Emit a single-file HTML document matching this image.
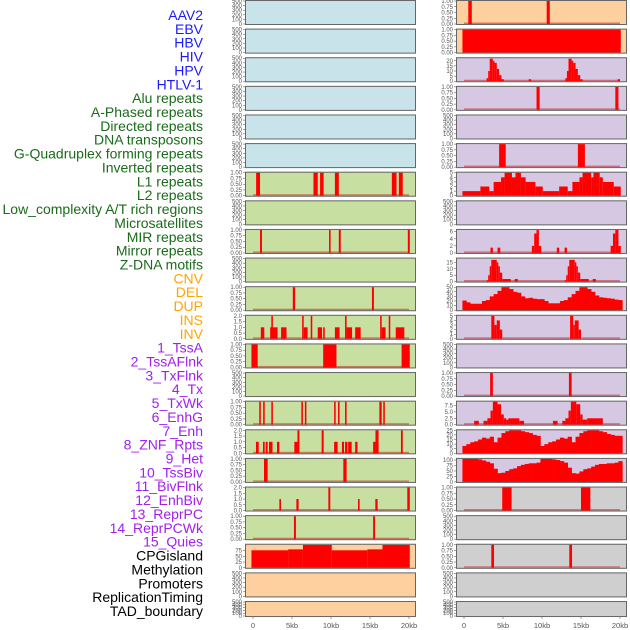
<!DOCTYPE html>
<html><head><meta charset="utf-8">
<style>
html,body{margin:0;padding:0;background:#fff;width:630px;height:630px;overflow:hidden}
svg{display:block}
text{font-family:"Liberation Sans",sans-serif}
</style></head>
<body>
<svg id="chart" width="630" height="630" viewBox="0 0 630 630" xmlns="http://www.w3.org/2000/svg">
<g id="labels"></g>
<g id="panels"></g>
<g id="xaxes"></g>
</svg>
<script>
// ---------- data ----------
const trackLabels = ["AAV2","EBV","HBV","HIV","HPV","HTLV-1","Alu repeats","A-Phased repeats","Directed repeats","DNA transposons","G-Quadruplex forming repeats","Inverted repeats","L1 repeats","L2 repeats","Low_complexity A/T rich regions","Microsatellites","MIR repeats","Mirror repeats","Z-DNA motifs","CNV","DEL","DUP","INS","INV","1_TssA","2_TssAFlnk","3_TxFlnk","4_Tx","5_TxWk","6_EnhG","7_Enh","8_ZNF_Rpts","9_Het","10_TssBiv","11_BivFlnk","12_EnhBiv","13_ReprPC","14_ReprPCWk","15_Quies","CPGisland","Methylation","Promoters","ReplicationTiming","TAD_boundary"];
const labelGroups = [6,13,5,15,5];
const groupColors = ["#1a1aff","#1a6b1a","#ffa500","#a020f0","#000000"];
const xTicks = [0,5,10,15,20];
const xTickLabels = ["0","5kb","10kb","15kb","20kb"];

// left column backgrounds / right column backgrounds (per row)
const leftBg = ["b","b","b","b","b","b","g","g","g","g","g","g","g","g","g","g","g","g","g","p","p","p"];
const rightBg = ["p","p","l","l","l","l","l","l","l","l","l","l","l","l","l","l","l","y","y","y","y","y"];

// segments: [startKb, endKb, value]
const L6 = [[0.4,0.9,1],[7.75,8.3,1],[8.6,9.05,1],[10.5,11.0,1],[17.8,18.4,1],[18.7,19.2,1]];
const L8 = [[0.9,1.15,1],[9.75,9.95,1],[11.0,11.25,1],[19.85,20.1,1]];
const L10 = [[5.1,5.4,1],[15.25,15.5,1]];
const L11 = [[1.0,1.45,1],[2.2,3.15,1],[2.35,2.55,2],[3.6,4.3,1],[6.3,6.5,2],[6.5,7.0,1],[7.4,7.6,2],[8.3,8.85,1],[9.0,9.2,1],[10.5,11.1,1],[11.8,12.0,2],[12.0,12.7,1],[13.1,13.8,1],[16.3,16.5,2],[16.5,17.0,1],[17.4,17.6,2],[18.3,19.4,1]];
const L12 = [[-0.2,0.6,1],[9.0,10.7,1],[19.05,20.1,1]];
const L14 = [[0.8,1.0,1],[1.3,1.5,1],[2.35,2.55,1],[6.2,6.4,1],[6.65,6.85,1],[10.4,10.6,1],[10.9,11.1,1],[11.8,12.0,1],[16.2,16.5,1],[16.7,16.9,1]];
const L15 = [[0.38,0.73,1],[1.28,1.5,1],[1.63,1.88,1],[2.05,2.5,1],[3.08,3.38,1],[5.3,5.7,1],[5.7,5.95,2],[8.8,9.06,2],[10.4,10.85,1],[11.4,11.67,1],[11.8,12.1,1],[12.2,12.65,1],[13.1,13.4,1],[15.4,15.7,1],[15.7,16.1,2],[18.97,19.2,2]];
const L16 = [[1.41,1.88,1],[11.58,12.0,1]];
const L17 = [[3.38,3.59,1],[5.56,5.85,1],[9.66,9.91,2],[13.46,13.67,1],[15.68,15.98,1],[19.78,20.1,2]];
const L18 = [[5.25,5.5,1],[15.4,15.65,1]];
const L19 = [[-0.2,4.5,76],[4.5,6.4,80],[6.4,10.1,99],[10.1,14.65,76],[14.65,16.6,80],[16.6,20.1,99]];

const R0 = [[0.55,1.0,1],[10.6,11.0,1]];
const R1 = [[-0.2,20.1,1]];
const R2 = [[2.9,3.1,3],[3.1,3.3,10],[3.3,3.7,22],[3.7,3.9,20],[3.9,4.2,18],[4.2,4.5,12],[4.5,4.8,6],[4.8,5.1,2],[8.3,8.6,2],[13.0,13.2,3],[13.2,13.4,10],[13.4,13.8,22],[13.8,14.0,20],[14.0,14.3,18],[14.3,14.6,12],[14.6,14.9,6],[14.9,15.2,2],[19.7,20.0,2]];
const R3 = [[9.3,9.7,1],[19.4,19.8,1]];
const R5 = [[4.5,5.35,1],[14.6,15.5,1]];
const R6 = [[-0.2,2.1,1],[2.1,3.25,2],[3.25,3.8,1],[3.8,4.75,3],[4.75,5.2,4],[5.2,6.15,5],[6.15,6.6,4],[6.6,7.3,5],[7.3,7.9,4],[7.9,9.15,3],[9.15,10.1,2],[10.1,12.2,1],[12.2,13.3,2],[13.3,13.9,1],[13.9,14.8,3],[14.8,15.2,4],[15.2,16.3,5],[16.3,16.6,4],[16.6,17.4,5],[17.4,17.8,4],[17.8,19.2,3],[19.2,20.1,2]];
const R8 = [[3.4,3.7,1.5],[4.3,4.65,1.5],[8.7,9.0,2],[9.0,9.3,5.5],[9.3,9.6,6.5],[9.6,9.9,2],[11.9,12.2,1.5],[12.9,13.2,1.5],[18.8,19.1,2],[19.1,19.4,5.5],[19.4,19.8,6.5],[19.8,20.1,2]];
const R9 = [[2.9,3.1,1],[3.1,3.3,5],[3.3,3.5,12],[3.5,4.2,17],[4.2,4.4,15],[4.4,4.6,12],[4.6,4.9,7],[4.9,6.0,2],[6.5,6.9,2],[12.9,13.1,1],[13.1,13.3,5],[13.3,13.5,12],[13.5,14.2,17],[14.2,14.4,15],[14.4,14.6,12],[14.6,14.9,7],[14.9,16.0,2],[16.5,16.9,2]];
const R10bins = [21,17,14,14,14,20,22,30,35,42,50,50,46,40,38,30,26,27,25,24,24,20,15,15,15,20,22,28,35,42,50,50,46,40,32,28,27,26,25,23,22];
const R11 = [[3.5,3.9,5],[3.9,4.2,3],[4.2,4.6,4],[4.6,4.9,2],[13.6,14.0,5],[14.0,14.2,3],[14.2,14.7,4],[14.7,15.0,2]];
const R13 = [[3.35,3.7,1],[13.45,13.8,1]];
const R14 = [[1.3,1.9,1.5],[2.5,3.0,1.5],[3.0,3.4,2.5],[3.4,3.7,5.5],[3.7,4.3,9],[4.3,4.75,8],[4.75,5.1,4],[5.1,5.4,2.5],[5.4,5.7,2],[5.7,7.1,2.5],[7.1,7.7,1.5],[11.4,12.0,1.5],[12.6,13.0,1.5],[13.0,13.4,2.5],[13.4,13.7,5.5],[13.7,14.4,9],[14.4,14.9,8],[14.9,15.2,4],[15.2,15.8,2],[15.8,17.8,2.5]];
const R15bins = [8,10,12,13,15,17,16,18,12,17,22,24,25,25,25,24,23,22,20,19,8,10,12,13,15,17,16,18,12,18,22,24,25,25,25,24,23,21,20,19,19];
const R16bins = [105,105,105,105,103,98,92,85,60,40,42,50,58,62,72,78,82,85,85,88,105,105,105,103,100,95,88,65,40,38,48,58,62,70,78,82,82,85,85,88,95];
const R17 = [[4.9,6.1,1],[15.0,16.2,1]];
const R19 = [[3.5,3.85,1],[13.5,13.85,1]];

const unitTicks = [0,0.25,0.5,0.75,1];
const unitTickLabels = ["0.00","0.25","0.50","0.75","1.00"];
const emptyTicks = [0,100,200,300,400,500];
const twoTicks = [0,0.5,1,1.5,2];
const twoTickLabels = ["0.0","0.5","1.0","1.5","2.0"];

// panel specs: col, row, segs/bins, ymax, ticks, tickLabels
const panelSpecs = [
 ["L",6,L6,1,unitTicks,unitTickLabels],["L",8,L8,1,unitTicks,unitTickLabels],
 ["L",10,L10,1,unitTicks,unitTickLabels],["L",11,L11,2,twoTicks,twoTickLabels],
 ["L",12,L12,1,unitTicks,unitTickLabels],["L",14,L14,1,unitTicks,unitTickLabels],
 ["L",15,L15,2,twoTicks,twoTickLabels],["L",16,L16,1,unitTicks,unitTickLabels],
 ["L",17,L17,2,twoTicks,twoTickLabels],["L",18,L18,1,unitTicks,unitTickLabels],
 ["L",19,L19,100,[0,25,50,75],["0","25","50","75"]],
 ["R",0,R0,1,unitTicks,unitTickLabels],["R",1,R1,1,unitTicks,unitTickLabels],
 ["R",2,R2,22.5,[0,5,10,15,20],["0","5","10","15","20"]],["R",3,R3,1,unitTicks,unitTickLabels],
 ["R",5,R5,1,unitTicks,unitTickLabels],["R",6,R6,5,[0,1,2,3,4,5],["0","1","2","3","4","5"]],
 ["R",8,R8,6.5,[0,2,4,6],["0","2","4","6"]],["R",9,R9,18,[0,5,10,15],["0","5","10","15"]],
 ["R",10,R10bins,50,[0,10,20,30,40,50],["0","10","20","30","40","50"]],
 ["R",11,R11,5,[0,1,2,3,4,5],["0","1","2","3","4","5"]],["R",13,R13,1,unitTicks,unitTickLabels],
 ["R",14,R14,9,[0,2.5,5,7.5],["0.0","2.5","5.0","7.5"]],
 ["R",15,R15bins,25,[0,5,10,15,20,25],["0","5","10","15","20","25"]],
 ["R",16,R16bins,105,[0,25,50,75,100],["0","25","50","75","100"]],
 ["R",17,R17,1,unitTicks,unitTickLabels],["R",19,R19,1,unitTicks,unitTickLabels]
];

// ---------- drawing ----------
const NS="http://www.w3.org/2000/svg";
function mk(tag,attrs,parent){const e=document.createElementNS(NS,tag);for(const k in attrs)e.setAttribute(k,attrs[k]);parent.appendChild(e);return e;}
const bgColors={b:"#c8e3ea",g:"#c7e0a2",p:"#ffd09f",l:"#d6c7e2",y:"#cfcfcf"};
const colLeft={L:245,R:456};
const panelW=171;
function rowTop(r){return r*28.62;}
function rowH(r){return r===21?16:25;}
function xScale(col,kb){return colLeft[col]+8+kb*7.8;}
function yScale(r,v,ymax){const t=rowTop(r)+1,b=rowTop(r)+rowH(r)-1;return b-(v/ymax)*(b-t);}

// labels
const lg=document.getElementById("labels");
let idx=0;
labelGroups.forEach((n,g)=>{for(let i=0;i<n;i++){
  const t=mk("text",{x:203,y:20+idx*13.86,"text-anchor":"end","font-size":"14",fill:groupColors[g]},lg);
  t.textContent=trackLabels[idx];
  
  
  idx++;}});

const pg=document.getElementById("panels");
const specMap={};
panelSpecs.forEach(s=>{specMap[s[0]+s[1]]=s;});

["L","R"].forEach(col=>{
  const bgs=col==="L"?leftBg:rightBg;
  for(let r=0;r<22;r++){
    const g=mk("g",{},pg);
    
    
    const top=rowTop(r),h=rowH(r),x0=colLeft[col];
    mk("rect",{x:x0,y:top,width:panelW,height:h,fill:bgColors[bgs[r]]},g);
    const spec=specMap[col+r];
    let ticks=emptyTicks,tl=emptyTicks.map(String),ymax=500;
    if(spec){ticks=spec[4];tl=spec[5];ymax=spec[3];
      const data=spec[2];
      // baseline
      const bl=mk("rect",{x:xScale(col,0),y:top+h-2.5,width:xScale(col,20)-xScale(col,0),height:1.5,fill:"rgba(190,0,0,0.45)"},g);
      
      
      if(typeof data[0]==="number"){
        data.forEach((v,i)=>{const k0=i*0.5-0.2,k1=i*0.5+0.3;
          const y=yScale(r,v,ymax);
          const rc=mk("rect",{x:xScale(col,k0),y:y,width:xScale(col,k1)-xScale(col,k0)+0.3,height:top+h-1-y,fill:"#ff0000"},g);
          
          });
      } else {
        data.forEach(s=>{const y=yScale(r,s[2],ymax);
          const rc=mk("rect",{x:xScale(col,s[0]),y:y,width:Math.max(1.5,xScale(col,s[1])-xScale(col,s[0])),height:top+h-1-y,fill:"#ff0000"},g);
          
          });
      }
    }
    mk("rect",{x:x0+0.5,y:top+0.5,width:panelW-1,height:h-1,fill:"none",stroke:"#666","stroke-width":"1"},g);
    ticks.forEach((v,i)=>{const y=yScale(r,v,ymax);
      mk("line",{x1:x0-2,x2:x0,y1:y,y2:y,stroke:"#444","stroke-width":"0.5"},g);
      const t=mk("text",{x:x0-3,y:y+2,"text-anchor":"end","font-size":"6",fill:"#555"},g);
      t.textContent=tl[i];
      
      });
  }
});

const xg=document.getElementById("xaxes");
["L","R"].forEach(col=>{
  xTicks.forEach((k,i)=>{const x=xScale(col,k);
    mk("line",{x1:x,x2:x,y1:617,y2:619,stroke:"#444","stroke-width":"0.5"},xg);
    const t=mk("text",{x:x,y:628,"text-anchor":"middle","font-size":"7.5",fill:"#555"},xg);
    t.textContent=xTickLabels[i];
    
    });
});
</script>
</body></html>
